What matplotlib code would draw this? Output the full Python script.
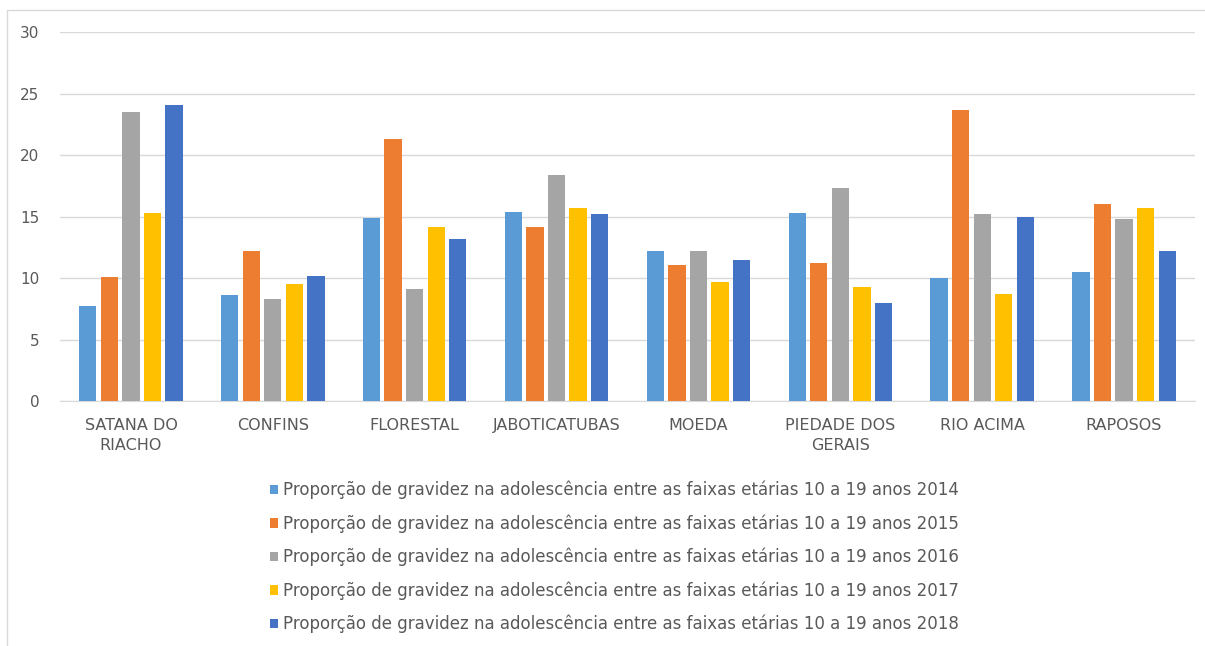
import numpy as np
import matplotlib
matplotlib.use("Agg")
import matplotlib.pyplot as plt
from matplotlib.patches import Rectangle

MUNICIPIOS = ["SATANA DO\nRIACHO", "CONFINS", "FLORESTAL", "JABOTICATUBAS",
              "MOEDA", "PIEDADE DOS\nGERAIS", "RIO ACIMA", "RAPOSOS"]
ANOS = ["2014", "2015", "2016", "2017", "2018"]
CORES = ["#5b9bd5", "#ed7d31", "#a5a5a5", "#ffc000", "#4472c4"]

v2014 = [7.7, 8.6, 14.9, 15.4, 12.2, 15.3, 10.0, 10.5]
v2015 = [10.1, 12.2, 21.3, 14.2, 11.1, 11.2, 23.7, 16.0]
v2016 = [23.5, 8.3, 9.1, 18.4, 12.2, 17.3, 15.2, 14.8]
v2017 = [15.3, 9.5, 14.2, 15.7, 9.7, 9.3, 8.7, 15.7]
v2018 = [24.1, 10.2, 13.2, 15.2, 11.5, 8.0, 15.0, 12.2]
SERIES = [v2014, v2015, v2016, v2017, v2018]

LEGENDA = "Proporção de gravidez na adolescência entre as faixas etárias 10 a 19 anos "

fig = plt.figure(figsize=(12.05, 6.46), dpi=100)
ax = fig.add_axes([0.0498, 0.379, 0.9419, 0.571])

x = np.arange(len(MUNICIPIOS))
passo = 0.152
largura = 0.122
for i, (valores, ano) in enumerate(zip(SERIES, ANOS)):
    pos = x + (i - 2) * passo
    ax.bar(pos, valores, width=largura, color=CORES[i], linewidth=0,
           label=LEGENDA + ano, zorder=3)

ax.set_xlim(-0.5, len(MUNICIPIOS) - 0.5)
ax.set_ylim(0, 30)
ax.set_yticks(range(0, 31, 5))
ax.grid(axis="y", color="#d9d9d9", linewidth=1, zorder=0)
for lado in ["top", "right", "left"]:
    ax.spines[lado].set_visible(False)
ax.spines["bottom"].set_color("#d9d9d9")
ax.tick_params(axis="both", length=0, colors="#595959")
ax.tick_params(axis="y", pad=15, labelsize=11)
ax.tick_params(axis="x", pad=12, labelsize=11.5)
ax.set_xticks(x)
ax.set_xticklabels(MUNICIPIOS, linespacing=1.4)

fig.legend(loc="upper center", bbox_to_anchor=(0.51, 0.279), ncol=1,
           frameon=False, fontsize=12, labelcolor="#595959",
           handlelength=0.5, handleheight=0.5, handletextpad=0.3,
           labelspacing=0.9)

# moldura cinza em volta do gráfico
fig.patches.append(Rectangle((7 / 1205, -0.05), 1.1, 1 - 10 / 646 + 0.05,
                             transform=fig.transFigure, fill=False,
                             edgecolor="#d9d9d9", linewidth=1))

fig.savefig("out.png", dpi=100)
